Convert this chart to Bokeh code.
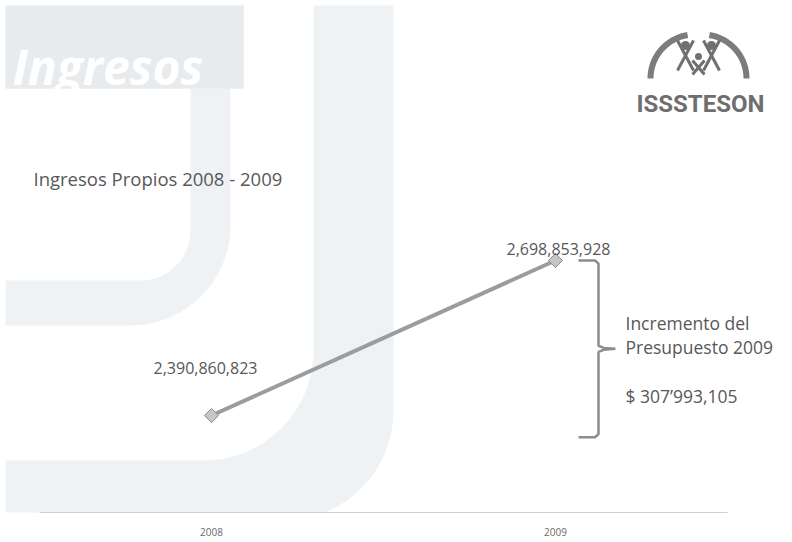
import numpy as np
from bokeh.plotting import figure
from bokeh.models import Range1d, ColumnDataSource, FixedTicker
from bokeh.core.properties import value
from bokeh.embed import file_html
from bokeh.resources import INLINE

# ---------------- data ----------------
years = ["2008", "2009"]
ingresos = [2390860823, 2698853928]
chart_title = "Ingresos Propios 2008 - 2009"
banner_title = "Ingresos"
increment_caption = ["Incremento del", "Presupuesto 2009"]
logo_text = "ISSSTESON"

# derived
xpos = [i + 0.5 for i in range(len(years))]
value_labels = [f"{v:,}" for v in ingresos]
diff = ingresos[1] - ingresos[0]
inc_text = f"$ {diff // 1_000_000}\u2019{(diff % 1_000_000) // 1000:03d},{diff % 1000:03d}"

# label offsets (screen px) – positioning only
label_dx = [-6, 3]
label_dy = [-48, -12]

W, H = 792, 542
p = figure(width=W, height=H, output_backend="svg", toolbar_location=None,
           x_range=Range1d(-0.1134, 2.1890), y_range=Range1d(2.19812e9, 3.21549e9),
           y_axis_location=None, min_border_left=0, min_border_right=0,
           min_border_top=0, min_border_bottom=30,
           background_fill_color="white", border_fill_color="white",
           outline_line_color=None, tools="")
p.grid.visible = False
# pixel-like helper ranges for the slide decoration (image coordinates)
p.extra_x_ranges = {"px": Range1d(0, 792)}
p.extra_y_ranges = {"py": Range1d(512, 0)}
PX = dict(x_range_name="px", y_range_name="py")


def arc(cx, cy, r, a0, a1, n=30):
    t = np.linspace(a0, a1, n)
    return list(cx + r * np.cos(t)), list(cy + r * np.sin(t))


SHAPE = "#eff2f4"
BANNER = "#e8ebee"
TEXT = "#585858"

# shape 1 (reversed C)
ax1, ay1 = arc(130, 225, 100, 0, np.pi / 2)
ax2, ay2 = arc(140, 230, 50, np.pi / 2, 0)
s1x = [5, 243, 243, 230, 230] + ax1 + [5, 5] + ax2 + [190, 5]
s1y = [5, 5, 88, 88, 225] + ay1 + [325, 280] + ay2 + [88, 88]
p.patch(s1x, s1y, fill_color=SHAPE, line_color=None, **PX)
p.patch([5, 243, 243, 5], [5, 5, 88, 88], fill_color=BANNER, line_color=None, **PX)

# shape 2 (J)
bx1, by1 = arc(283, 410, 110, 0, np.pi / 2)
bx2, by2 = arc(203, 350, 110, np.pi / 2, 0)
s2x = [313, 393, 393] + bx1 + [5, 5] + bx2 + [313]
s2y = [5, 5, 410] + by1 + [520, 460] + by2 + [350]
p.patch(s2x, s2y, fill_color=SHAPE, line_color=None, **PX)

# banner text
p.text(x=[12], y=[66], text=[banner_title], text_color="white",
       text_font=value("Open Sans"), text_font_style="bold italic",
       text_font_size="48px", text_baseline="alphabetic", **PX)

# chart title
p.text(x=[33], y=[178], text=[chart_title], text_color=TEXT,
       text_font=value("Open Sans"), text_font_size="18.5px",
       text_baseline="alphabetic", **PX)

# logo
lx, ly = arc(694, 78, 44, np.pi, 1.45 * np.pi)
rx, ry = arc(702, 78, 44, 1.55 * np.pi, 2 * np.pi)
p.line(lx, ly, line_color="#7c7c7c", line_width=6, **PX)
p.line(rx, ry, line_color="#7c7c7c", line_width=6, **PX)
p.scatter([685, 711, 698], [45, 45, 56], size=[9, 9, 7], marker="circle",
          fill_color="#707070", line_color=None, **PX)
p.multi_line([[677, 693], [693, 677], [703, 719], [719, 703], [692, 704], [704, 692]],
             [[40, 70], [40, 70], [40, 70], [40, 70], [60, 74], [60, 74]],
             line_color="#707070", line_width=3, **PX)
p.text(x=[700], y=[103], text=[logo_text], text_color="#6e6e6e",
       text_font=value("Roboto"), text_font_style="bold",
       text_font_size="24px", text_align="center", text_baseline="alphabetic", **PX)

# ---------------- data series ----------------
p.line(xpos, ingresos, line_color="#9c9c9c", line_width=4)
p.scatter(xpos, ingresos, marker="square", angle=np.pi / 4, size=10,
          fill_color="#c6c6c6", line_color="#8a8a8a", line_width=1)

src = ColumnDataSource(dict(x=xpos, y=ingresos, label=value_labels, dx=label_dx, dy=label_dy))
p.text(x="x", y="y", text="label", x_offset="dx", y_offset="dy", source=src,
       text_align="center", text_baseline="alphabetic",
       text_font=value("Open Sans"), text_font_size="16px", text_color=TEXT)

# bracket showing increment
y_top = ingresos[1]
y_bot = ingresos[0] - 0.14 * diff
y_mid = (y_top + y_bot) / 2
xb = xpos[1]
d6 = 0.02 * diff
bx = [xb + 0.067, xb + 0.115, xb + 0.125, xb + 0.125, xb + 0.14, xb + 0.174,
      xb + 0.14, xb + 0.125, xb + 0.125, xb + 0.115, xb + 0.067]
by = [y_top, y_top, y_top - d6, y_mid + d6, y_mid + 0.3 * d6, y_mid,
      y_mid - 0.3 * d6, y_mid - d6, y_bot + d6, y_bot, y_bot]
p.line(bx, by, line_color="#8c8c8c", line_width=2.5)

p.text(x=[625, 625, 625], y=[322, 346, 395],
       text=increment_caption + [inc_text], text_color=TEXT,
       text_font=value("Open Sans"), text_font_size="17.5px",
       text_baseline="alphabetic", **PX)

# ---------------- axis ----------------
ax = p.xaxis[0]
ax.ticker = FixedTicker(ticks=xpos)
ax.major_label_overrides = {x: y for x, y in zip(xpos, years)}
ax.bounds = (0, len(years))
ax.axis_line_color = "#d0d0d0"
ax.axis_line_width = 1
ax.major_tick_in = 0
ax.major_tick_out = 0
ax.minor_tick_line_color = None
ax.major_label_standoff = 15
ax.major_label_text_font = "Open Sans"
ax.major_label_text_font_size = "10px"
ax.major_label_text_color = "#6a6a6a"

open("out.html", "w").write(file_html(p, INLINE))
